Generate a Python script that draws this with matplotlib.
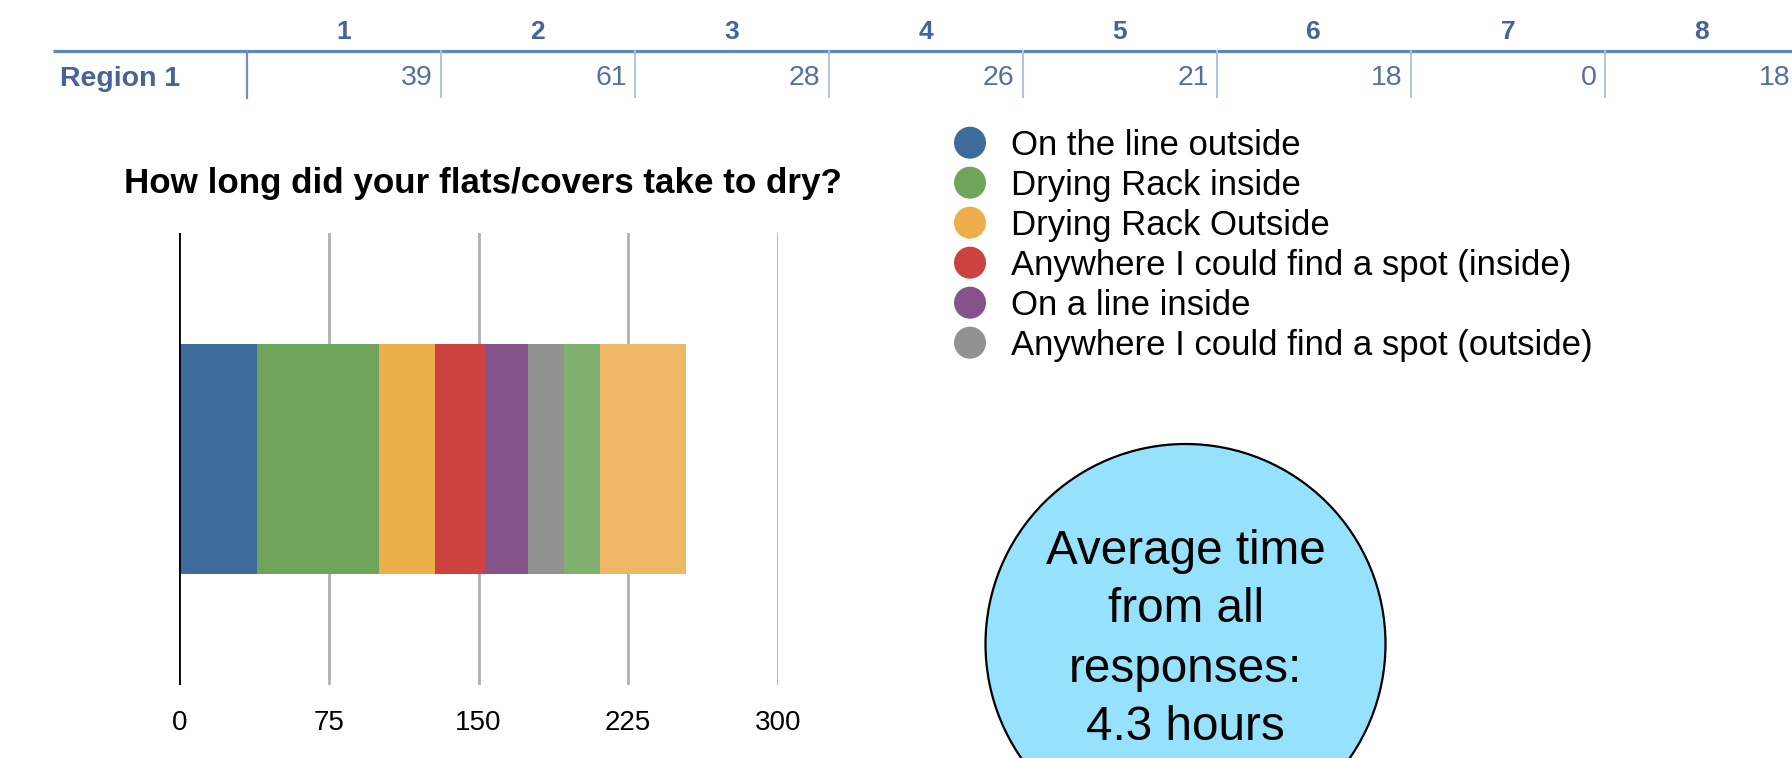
import matplotlib
matplotlib.use("Agg")
import matplotlib.pyplot as plt
from matplotlib.patches import Circle

plt.rcParams['font.family'] = ['Liberation Sans', 'DejaVu Sans']

# data
categories = ['1', '2', '3', '4', '5', '6', '7', '8', '9']
values = [39, 61, 28, 26, 21, 18, 0, 18, 43]
row_label = 'Region 1'
legend_labels = ['On the line outside', 'Drying Rack inside', 'Drying Rack Outside',
                 'Anywhere I could find a spot (inside)', 'On a line inside',
                 'Anywhere I could find a spot (outside)']
colors = ['#3D6B9C', '#6FA55A', '#ECAF4C', '#CB423F', '#835389', '#919291',
          '#6E8FBA', '#7FB06D', '#EFB866']
xticks = [0, 75, 150, 225, 300]
title = 'How long did your flats/covers take to dry?'
note_lines = ['Average time', 'from all', 'responses:', '4.3 hours']

W, H = 1792, 758
fig = plt.figure(figsize=(W / 100, H / 100), dpi=100)

# overlay in pixel coords (y down) for table, legend, circle
ov = fig.add_axes([0, 0, 1, 1])
ov.set_xlim(0, W)
ov.set_ylim(H, 0)
ov.axis('off')

# --- table ---
head_col = '#46639A'
val_col = '#55709F'
ov.plot([53, W], [51, 51], color='#5C88BF', lw=2.3, solid_capstyle='butt')
ov.plot([246.7, 246.7], [51, 98], color='#6E8FBF', lw=1.6)
ov.text(60, 86, row_label, fontsize=20.5, fontweight='bold', color=head_col,
        ha='left', va='baseline')
col_w = 194
for k, (cat, v) in enumerate(zip(categories, values)):
    x0 = 246.7 + col_w * k
    if x0 >= W:
        break  # the rest of the table runs off the page
    ov.text(x0 + col_w / 2, 39, cat, fontsize=19, fontweight='bold', color=head_col,
            ha='center', va='baseline')
    ov.text(x0 + col_w - 8, 85, str(v), fontsize=20.5, color=val_col,
            ha='right', va='baseline')
    ov.plot([x0 + col_w, x0 + col_w], [51, 97], color='#A8C5E0', lw=1.4)

# --- title ---
ov.text(483, 193, title, fontsize=25.2, fontweight='bold', ha='center', va='baseline')

# --- legend ---
for i, lab in enumerate(legend_labels):
    y = 142.7 + 40 * i
    ov.add_patch(Circle((970, y), 16, color=colors[i], lw=0))
    ov.text(1011, y + 12, lab, fontsize=25, ha='left', va='baseline')

# --- note circle ---
ov.add_patch(Circle((1185.5, 644), 200, facecolor='#96E2FC', edgecolor='black', lw=1.6,
                    clip_on=False))
for i, line in enumerate(note_lines):
    ov.text(1185.5, 563.5 + 59 * i, line, fontsize=34.3, ha='center', va='baseline')

# --- bar chart ---
ax = fig.add_axes([179.3 / W, 1 - 685 / H, 598.4 / W, 452 / H])
left = 0
for v, c in zip(values, colors):
    ax.barh(0.5, v, left=left, height=0.51, color=c, zorder=3)
    left += v
ax.set_xlim(0, 300)
ax.set_ylim(0, 1)
ax.set_xticks(xticks)
ax.set_yticks([])
ax.grid(axis='x', color='#B0B0B0', lw=2, zorder=0)
for s in ax.spines.values():
    s.set_visible(False)
ax.axvline(0, color='black', lw=2, zorder=4)
ax.tick_params(axis='x', length=0, pad=18, labelsize=20)
ax.patch.set_alpha(0)

fig.savefig('out.png', dpi=100)
